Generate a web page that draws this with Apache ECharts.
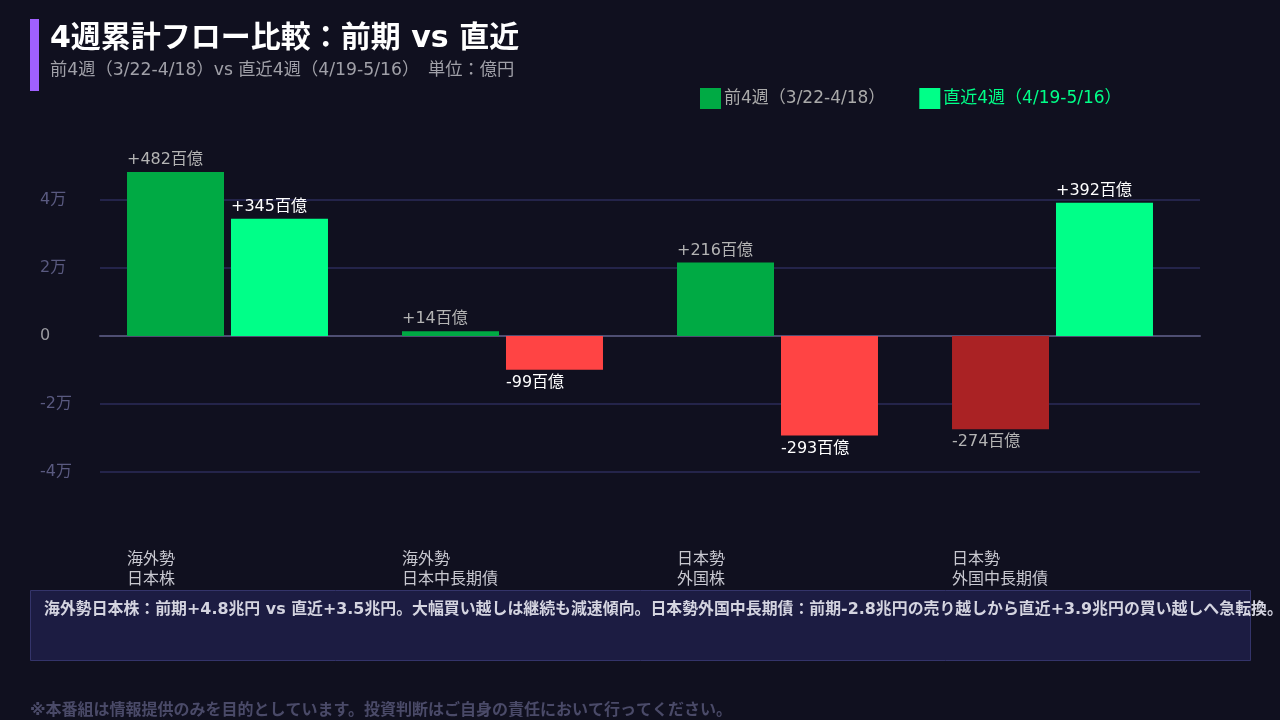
<!DOCTYPE html>
<html><head><meta charset="utf-8">
<script src="https://cdn.jsdelivr.net/npm/echarts@6/dist/echarts.min.js"></script>
<style>html,body{margin:0;padding:0;background:#10101f;}#c{width:1280px;height:720px;}</style>
</head><body><div id="c"></div>
<script>
// ---- data (億円) ----
const categories = ['海外勢\n日本株', '海外勢\n日本中長期債', '日本勢\n外国株', '日本勢\n外国中長期債'];
const prevName = '前4週（3/22-4/18）';
const recentName = '直近4週（4/19-5/16）';
const prevValues = [48200, 1400, 21600, -27400];
const recentValues = [34500, -9900, -29300, 39200];
const yMin = -40000, yMax = 40000, yInterval = 20000;
const titleText = '4週累計フロー比較：前期 vs 直近';
const subtitleText = '前4週（3/22-4/18）vs 直近4週（4/19-5/16）　単位：億円';
const noteText = '海外勢日本株：前期+4.8兆円 vs 直近+3.5兆円。大幅買い越しは継続も減速傾向。日本勢外国中長期債：前期-2.8兆円の売り越しから直近+3.9兆円の買い越しへ急転換。';
const footerText = '※本番組は情報提供のみを目的としています。投資判断はご自身の責任において行ってください。';

const FONT = '"DejaVu Sans", "Noto Sans CJK JP", sans-serif';
const prevPos = '#00aa44', prevNeg = '#aa2224';
const recPos = '#00ff88', recNeg = '#ff4444';

function fmtVal(v) { return (v > 0 ? '+' : '') + Math.round(v / 100) + '百億'; }
function buildData(vals, pos, neg, labelColor) {
  return vals.map(v => ({
    value: v,
    itemStyle: { color: v >= 0 ? pos : neg },
    label: v >= 0
      ? { position: [0, 0], offset: [0, -4], align: 'left', verticalAlign: 'bottom', color: labelColor }
      : { position: [0, '100%'], offset: [0, 5], align: 'left', verticalAlign: 'top', color: labelColor }
  }));
}

const chart = echarts.init(document.getElementById('c'));
chart.setOption({
  backgroundColor: '#10101f',
  textStyle: { fontFamily: FONT },
  animation: false,
  legend: {
    left: 700, top: 88, padding: 0, itemWidth: 21, itemHeight: 21, itemGap: 34, icon: 'rect',
    textStyle: { fontSize: 17, fontFamily: FONT, padding: [0, 0, 0, -2] },
    data: [
      { name: prevName, itemStyle: { color: prevPos }, textStyle: { color: '#aaaaaa' } },
      { name: recentName, itemStyle: { color: recPos }, textStyle: { color: '#00ff88' } }
    ]
  },
  grid: [
    { left: 100, right: 80, top: 200, bottom: 248 },
    { left: 90, right: 90, top: 200, bottom: 248 }
  ],
  xAxis: [
    { type: 'category', gridIndex: 0, data: categories,
      axisLine: { show: true, onZero: true, lineStyle: { color: '#4e4e72', width: 2 } },
      axisTick: { show: false }, axisLabel: { show: false }, splitLine: { show: false } },
    { type: 'category', gridIndex: 1, data: categories,
      axisLine: { show: false, onZero: false }, axisTick: { show: false }, splitLine: { show: false },
      axisLabel: {
        interval: 0, margin: 78, color: '#c8c8d0', fontSize: 16, lineHeight: 20, fontFamily: FONT,
        formatter: v => v.split('\n').map(s => '{a|' + s + '}').join('\n'),
        rich: { a: { width: 201, align: 'left', fontSize: 16, lineHeight: 20, color: '#c8c8d0', fontFamily: FONT } }
      } }
  ],
  yAxis: [
    { type: 'value', gridIndex: 0, min: yMin, max: yMax, interval: yInterval,
      axisLine: { show: false }, axisTick: { show: false },
      splitLine: { lineStyle: { color: '#24244a', width: 2 } },
      axisLabel: {
        align: 'left', margin: 60, fontSize: 16, color: '#5a5a80', fontFamily: FONT,
        formatter: v => v === 0 ? '{z|0}' : (v / 10000) + '万',
        rich: { z: { color: '#9a9aa0', fontSize: 16, fontFamily: FONT } }
      } },
    { type: 'value', gridIndex: 1, min: yMin, max: yMax, interval: yInterval, show: false,
      splitLine: { show: false } }
  ],
  series: [
    { name: prevName, type: 'bar', xAxisIndex: 1, yAxisIndex: 1, clip: false,
      barWidth: 97, barGap: '7.2%', itemStyle: { color: prevPos },
      label: { show: true, fontSize: 16, fontFamily: FONT, formatter: p => fmtVal(p.value) },
      data: buildData(prevValues, prevPos, prevNeg, '#b4b4b4') },
    { name: recentName, type: 'bar', xAxisIndex: 1, yAxisIndex: 1, clip: false,
      barWidth: 97, barGap: '7.2%', itemStyle: { color: recPos },
      label: { show: true, fontSize: 16, fontFamily: FONT, formatter: p => fmtVal(p.value) },
      data: buildData(recentValues, recPos, recNeg, '#ffffff') }
  ],
  graphic: [
    { type: 'rect', left: 30, top: 19, shape: { width: 9, height: 72 }, style: { fill: '#a060ff' } },
    { type: 'text', x: 50, y: 39, style: { text: titleText, fill: '#ffffff', font: 'bold 30px ' + FONT, textVerticalAlign: 'middle' } },
    { type: 'text', x: 50, y: 71, style: { text: subtitleText, fill: '#a0a0a8', font: '17.25px ' + FONT, textVerticalAlign: 'middle' } },
    { type: 'rect', left: 30, top: 590, shape: { width: 1220, height: 70 }, style: { fill: '#1c1c42', stroke: '#34346a', lineWidth: 1 } },
    { type: 'text', x: 44, y: 610, style: { text: noteText, fill: '#d4d4e0', font: 'bold 15.9px ' + FONT, textVerticalAlign: 'middle' } },
    { type: 'text', x: 30, y: 711, style: { text: footerText, fill: '#4a4a68', font: 'bold 16px ' + FONT, textVerticalAlign: 'middle' } }
  ]
});
</script>
</body></html>
